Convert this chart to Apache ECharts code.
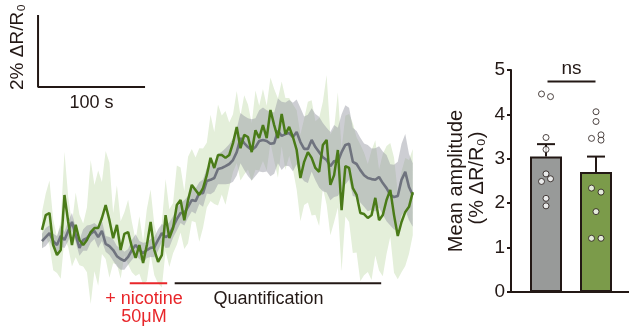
<!DOCTYPE html>
<html>
<head>
<meta charset="utf-8">
<script src="https://cdn.jsdelivr.net/npm/echarts@6/dist/echarts.min.js"></script>
<style>
  html, body { margin: 0; padding: 0; background: #fff; }
  #chart { width: 629px; height: 331px; }
</style>
</head>
<body>
<div id="chart"></div>
<script>
// time step between samples (s)
var timeStep = 3.5;

// mean traces, % dR/R0
var grayMean = [0.11,0.22,0.33,0.11,0.00,0.25,0.14,0.39,0.64,0.28,
  -0.08,0.14,0.19,0.31,0.39,0.22,0.39,0.03,-0.03,-0.14,
  -0.31,-0.39,-0.44,-0.33,-0.14,0.00,-0.14,-0.22,-0.14,-0.08,
  -0.06,0.14,0.33,0.22,0.28,0.50,0.72,0.89,0.89,1.06,
  1.25,1.22,1.44,1.44,1.78,1.81,1.86,2.11,2.14,2.19,
  2.25,2.36,2.58,2.97,2.83,2.72,2.64,2.72,2.89,2.92,
  2.89,2.81,2.83,3.17,3.03,3.08,3.11,3.00,3.14,2.86,
  2.67,2.67,2.92,2.72,2.58,2.44,2.36,2.19,2.33,2.31,
  2.58,2.78,2.81,2.31,2.25,2.08,1.94,1.86,1.83,1.81,
  1.89,1.72,1.58,1.39,1.33,1.36,1.81,2.03,1.61,1.39];
var graySem = [0.2,0.25,0.22,0.2,0.25,0.3,0.22,0.28,0.25,0.2,
  0.22,0.3,0.35,0.25,0.22,0.3,0.28,0.22,0.25,0.3,
  0.28,0.3,0.25,0.22,0.28,0.3,0.25,0.28,0.22,0.25,
  0.28,0.3,0.25,0.3,0.35,0.3,0.32,0.28,0.35,0.3,
  0.32,0.35,0.3,0.38,0.35,0.4,0.38,0.42,0.45,0.5,
  0.55,0.6,0.65,0.7,0.75,0.8,0.85,0.8,0.85,0.9,
  0.85,0.9,0.85,0.9,0.95,0.88,0.92,0.95,0.9,0.95,
  0.9,0.95,0.88,0.92,0.98,0.95,0.9,0.95,1.0,0.95,
  1.05,1.1,1.0,0.95,0.92,0.9,0.88,0.92,0.85,0.88,
  0.85,0.88,0.92,0.85,0.9,0.95,1.0,1.05,0.92,0.88];
var greenMean = [0.42,0.83,0.89,0.00,-0.28,-0.14,1.39,0.64,0.00,0.56,
  0.14,0.00,0.14,0.36,0.47,0.47,0.75,1.11,0.69,0.19,
  0.56,-0.14,0.31,0.36,-0.06,-0.36,0.00,-0.50,0.00,0.64,
  -0.14,-0.47,-0.28,0.83,0.19,0.47,1.11,1.25,0.69,1.25,
  1.67,1.53,1.39,1.58,1.94,2.42,2.14,2.50,2.50,2.42,
  2.50,2.83,3.28,2.69,3.06,3.00,2.58,3.19,2.97,3.33,
  2.97,3.75,3.33,2.97,3.64,3.08,3.28,3.00,2.64,1.86,
  2.31,2.58,2.42,2.14,2.03,2.78,2.92,1.67,1.94,2.64,
  0.97,2.19,2.14,1.58,1.39,0.89,0.86,0.75,0.83,1.31,
  0.69,0.83,1.25,1.53,0.83,0.25,0.64,0.92,1.06,1.47];
var greenSem = [0.5,0.6,0.9,0.7,0.5,0.8,1.2,0.7,0.6,0.9,
  0.7,0.6,0.9,2.0,1.2,1.6,1.0,1.5,1.6,0.7,
  1.1,0.8,0.6,0.9,0.7,0.5,0.8,0.6,1.0,0.9,
  0.7,0.6,0.9,1.0,0.8,0.7,1.1,0.9,0.8,1.2,
  1.0,0.9,1.3,1.1,0.9,1.2,1.0,1.4,1.1,1.3,
  0.9,0.8,1.0,0.9,1.1,0.9,0.8,1.1,0.9,1.0,
  0.9,0.9,1.0,1.1,0.9,1.0,0.8,0.9,1.1,1.2,
  1.2,1.4,1.6,1.3,1.5,1.2,1.8,1.4,1.3,1.6,
  1.7,1.4,1.5,1.8,1.6,1.9,1.7,1.5,1.8,1.6,
  1.4,1.7,1.5,1.3,1.6,1.2,1.4,1.5,1.3,1.2];

// annotation spans (s) and scale bar
var nicotineSpan = [82, 117];
var quantSpan = [124, 317];
var scaleBar = {t: -3.7, v: 4.39, dt: 100, dv: 2};

// bar chart
var groupPos = [1, 2];
var barMeans = [3.05, 2.70];
var barSems = [0.28, 0.35];
var grayPts = [4.46, 4.40, 3.48, 3.21, 2.66, 2.49, 2.55, 2.11, 1.94];
var grayJitter = [-0.09, 0.09, 0, 0, 0, -0.09, 0.09, 0, 0];
var greenPts = [4.06, 3.84, 3.46, 3.54, 3.42, 2.34, 2.25, 1.81, 1.21, 1.21];
var greenJitter = [0, 0, -0.09, 0.1, 0.1, -0.09, 0.1, 0, -0.09, 0.1];

var ink = '#231815';
var font = 'Liberation Sans, Arial, sans-serif';

function pairs(vals) {
  return vals.map(function(v, i) { return [i * timeStep, v]; });
}
// mean +/- sem band, drawn as one polygon
function bandSeries(mean, sem, color) {
  var rows = mean.map(function(v, i) { return [i * timeStep, v - sem[i], v + sem[i]]; });
  return {
    type: 'custom', xAxisIndex: 0, yAxisIndex: 0, silent: true, data: rows,
    renderItem: function(params, api) {
      if (params.dataIndex !== 0) return null;
      var pts = [];
      rows.forEach(function(r) { pts.push(api.coord([r[0], r[2]])); });
      for (var i = rows.length - 1; i >= 0; i--) pts.push(api.coord([rows[i][0], rows[i][1]]));
      return {type: 'polygon', shape: {points: pts}, style: {fill: color}};
    }
  };
}
function hline(span, v, color) {
  return {type: 'line', xAxisIndex: 0, yAxisIndex: 0, symbol: 'none', silent: true,
    lineStyle: {color: color, width: 2}, data: [[span[0], v], [span[1], v]]};
}

var chart = echarts.init(document.getElementById('chart'));
chart.setOption({
  animation: false,
  grid: [
    {left: 31.3, width: 385.2, top: 11, height: 306},
    {left: 511, width: 117.5, top: 70, height: 222}
  ],
  xAxis: [
    {type: 'value', gridIndex: 0, min: -10, max: 350, show: false},
    {type: 'value', gridIndex: 1, min: 0.3, max: 2.65, axisLabel: {show: false}, axisTick: {show: false},
      splitLine: {show: false}, axisLine: {lineStyle: {color: ink, width: 2}}}
  ],
  yAxis: [
    {type: 'value', gridIndex: 0, min: -2, max: 6.5, show: false},
    {type: 'value', gridIndex: 1, min: 0, max: 5, interval: 1, splitLine: {show: false},
      axisLine: {show: true, lineStyle: {color: ink, width: 2}},
      axisTick: {show: true, length: 4, lineStyle: {color: ink, width: 2}},
      axisLabel: {color: ink, fontSize: 19, fontFamily: font, margin: 6}}
  ],
  graphic: [
    {type: 'text', x: 18, y: 47, rotation: Math.PI / 2,
      style: {text: '2% ΔR/R₀', font: '19px ' + font, fill: ink, align: 'center', verticalAlign: 'middle'}},
    {type: 'text', x: 91.5, y: 103,
      style: {text: '100 s', font: '18px ' + font, fill: ink, align: 'center', verticalAlign: 'middle'}},
    {type: 'text', x: 144, y: 299,
      style: {text: '+ nicotine', font: '18px ' + font, fill: '#e8262a', align: 'center', verticalAlign: 'middle'}},
    {type: 'text', x: 144, y: 317,
      style: {text: '50μM', font: '18px ' + font, fill: '#e8262a', align: 'center', verticalAlign: 'middle'}},
    {type: 'text', x: 268.5, y: 299,
      style: {text: 'Quantification', font: '18px ' + font, fill: ink, align: 'center', verticalAlign: 'middle'}},
    {type: 'text', x: 571.5, y: 69,
      style: {text: 'ns', font: '19px ' + font, fill: ink, align: 'center', verticalAlign: 'middle'}},
    {type: 'text', x: 456, y: 181, rotation: Math.PI / 2,
      style: {text: 'Mean amplitude', font: '20px ' + font, fill: ink, align: 'center', verticalAlign: 'middle'}},
    {type: 'text', x: 477, y: 178, rotation: Math.PI / 2,
      style: {text: '(% ΔR/R₀)', font: '20px ' + font, fill: ink, align: 'center', verticalAlign: 'middle'}}
  ],
  series: [
    bandSeries(greenMean, greenSem, '#e4efda'),
    bandSeries(grayMean, graySem, 'rgba(150,153,162,0.48)'),
    {type: 'line', xAxisIndex: 0, yAxisIndex: 0, symbol: 'none', silent: true,
      lineStyle: {color: '#6f737e', width: 2.6}, data: pairs(grayMean)},
    {type: 'line', xAxisIndex: 0, yAxisIndex: 0, symbol: 'none', silent: true,
      lineStyle: {color: '#4a7b18', width: 2.5}, data: pairs(greenMean)},
    {type: 'line', xAxisIndex: 0, yAxisIndex: 0, symbol: 'none', silent: true, clip: false,
      lineStyle: {color: ink, width: 2},
      data: [[scaleBar.t, scaleBar.v + scaleBar.dv], [scaleBar.t, scaleBar.v], [scaleBar.t + scaleBar.dt, scaleBar.v]]},
    hline(nicotineSpan, -1.06, '#e8262a'),
    hline(quantSpan, -1.06, ink),
    // right panel
    {type: 'bar', xAxisIndex: 1, yAxisIndex: 1, barWidth: 32, silent: true,
      data: [
        {value: [groupPos[0], barMeans[0]], itemStyle: {color: '#989a99', borderColor: ink, borderWidth: 2}},
        {value: [groupPos[1], barMeans[1]], itemStyle: {color: '#7b9b4a', borderColor: ink, borderWidth: 2}}
      ]},
    {type: 'custom', xAxisIndex: 1, yAxisIndex: 1, silent: true, z: 3,
      data: groupPos.map(function(p, i) { return [p, barMeans[i], barSems[i]]; }),
      renderItem: function(params, api) {
        var base = api.coord([api.value(0), api.value(1)]);
        var top = api.coord([api.value(0), api.value(1) + api.value(2)]);
        var st = {stroke: ink, lineWidth: 2};
        return {type: 'group', children: [
          {type: 'line', shape: {x1: base[0], y1: base[1], x2: top[0], y2: top[1]}, style: st},
          {type: 'line', shape: {x1: top[0] - 9, y1: top[1], x2: top[0] + 9, y2: top[1]}, style: st}
        ]};
      }},
    {type: 'scatter', xAxisIndex: 1, yAxisIndex: 1, silent: true, z: 5, symbolSize: 6,
      itemStyle: {color: '#fff', borderColor: ink, borderWidth: 1},
      data: grayPts.map(function(v, i) { return [groupPos[0] + grayJitter[i], v]; })
        .concat(greenPts.map(function(v, i) { return [groupPos[1] + greenJitter[i], v]; }))},
    {type: 'line', xAxisIndex: 1, yAxisIndex: 1, symbol: 'none', silent: true,
      lineStyle: {color: ink, width: 2}, data: [[1.03, 4.74], [1.99, 4.74]]}
  ]
});
</script>
</body>
</html>
